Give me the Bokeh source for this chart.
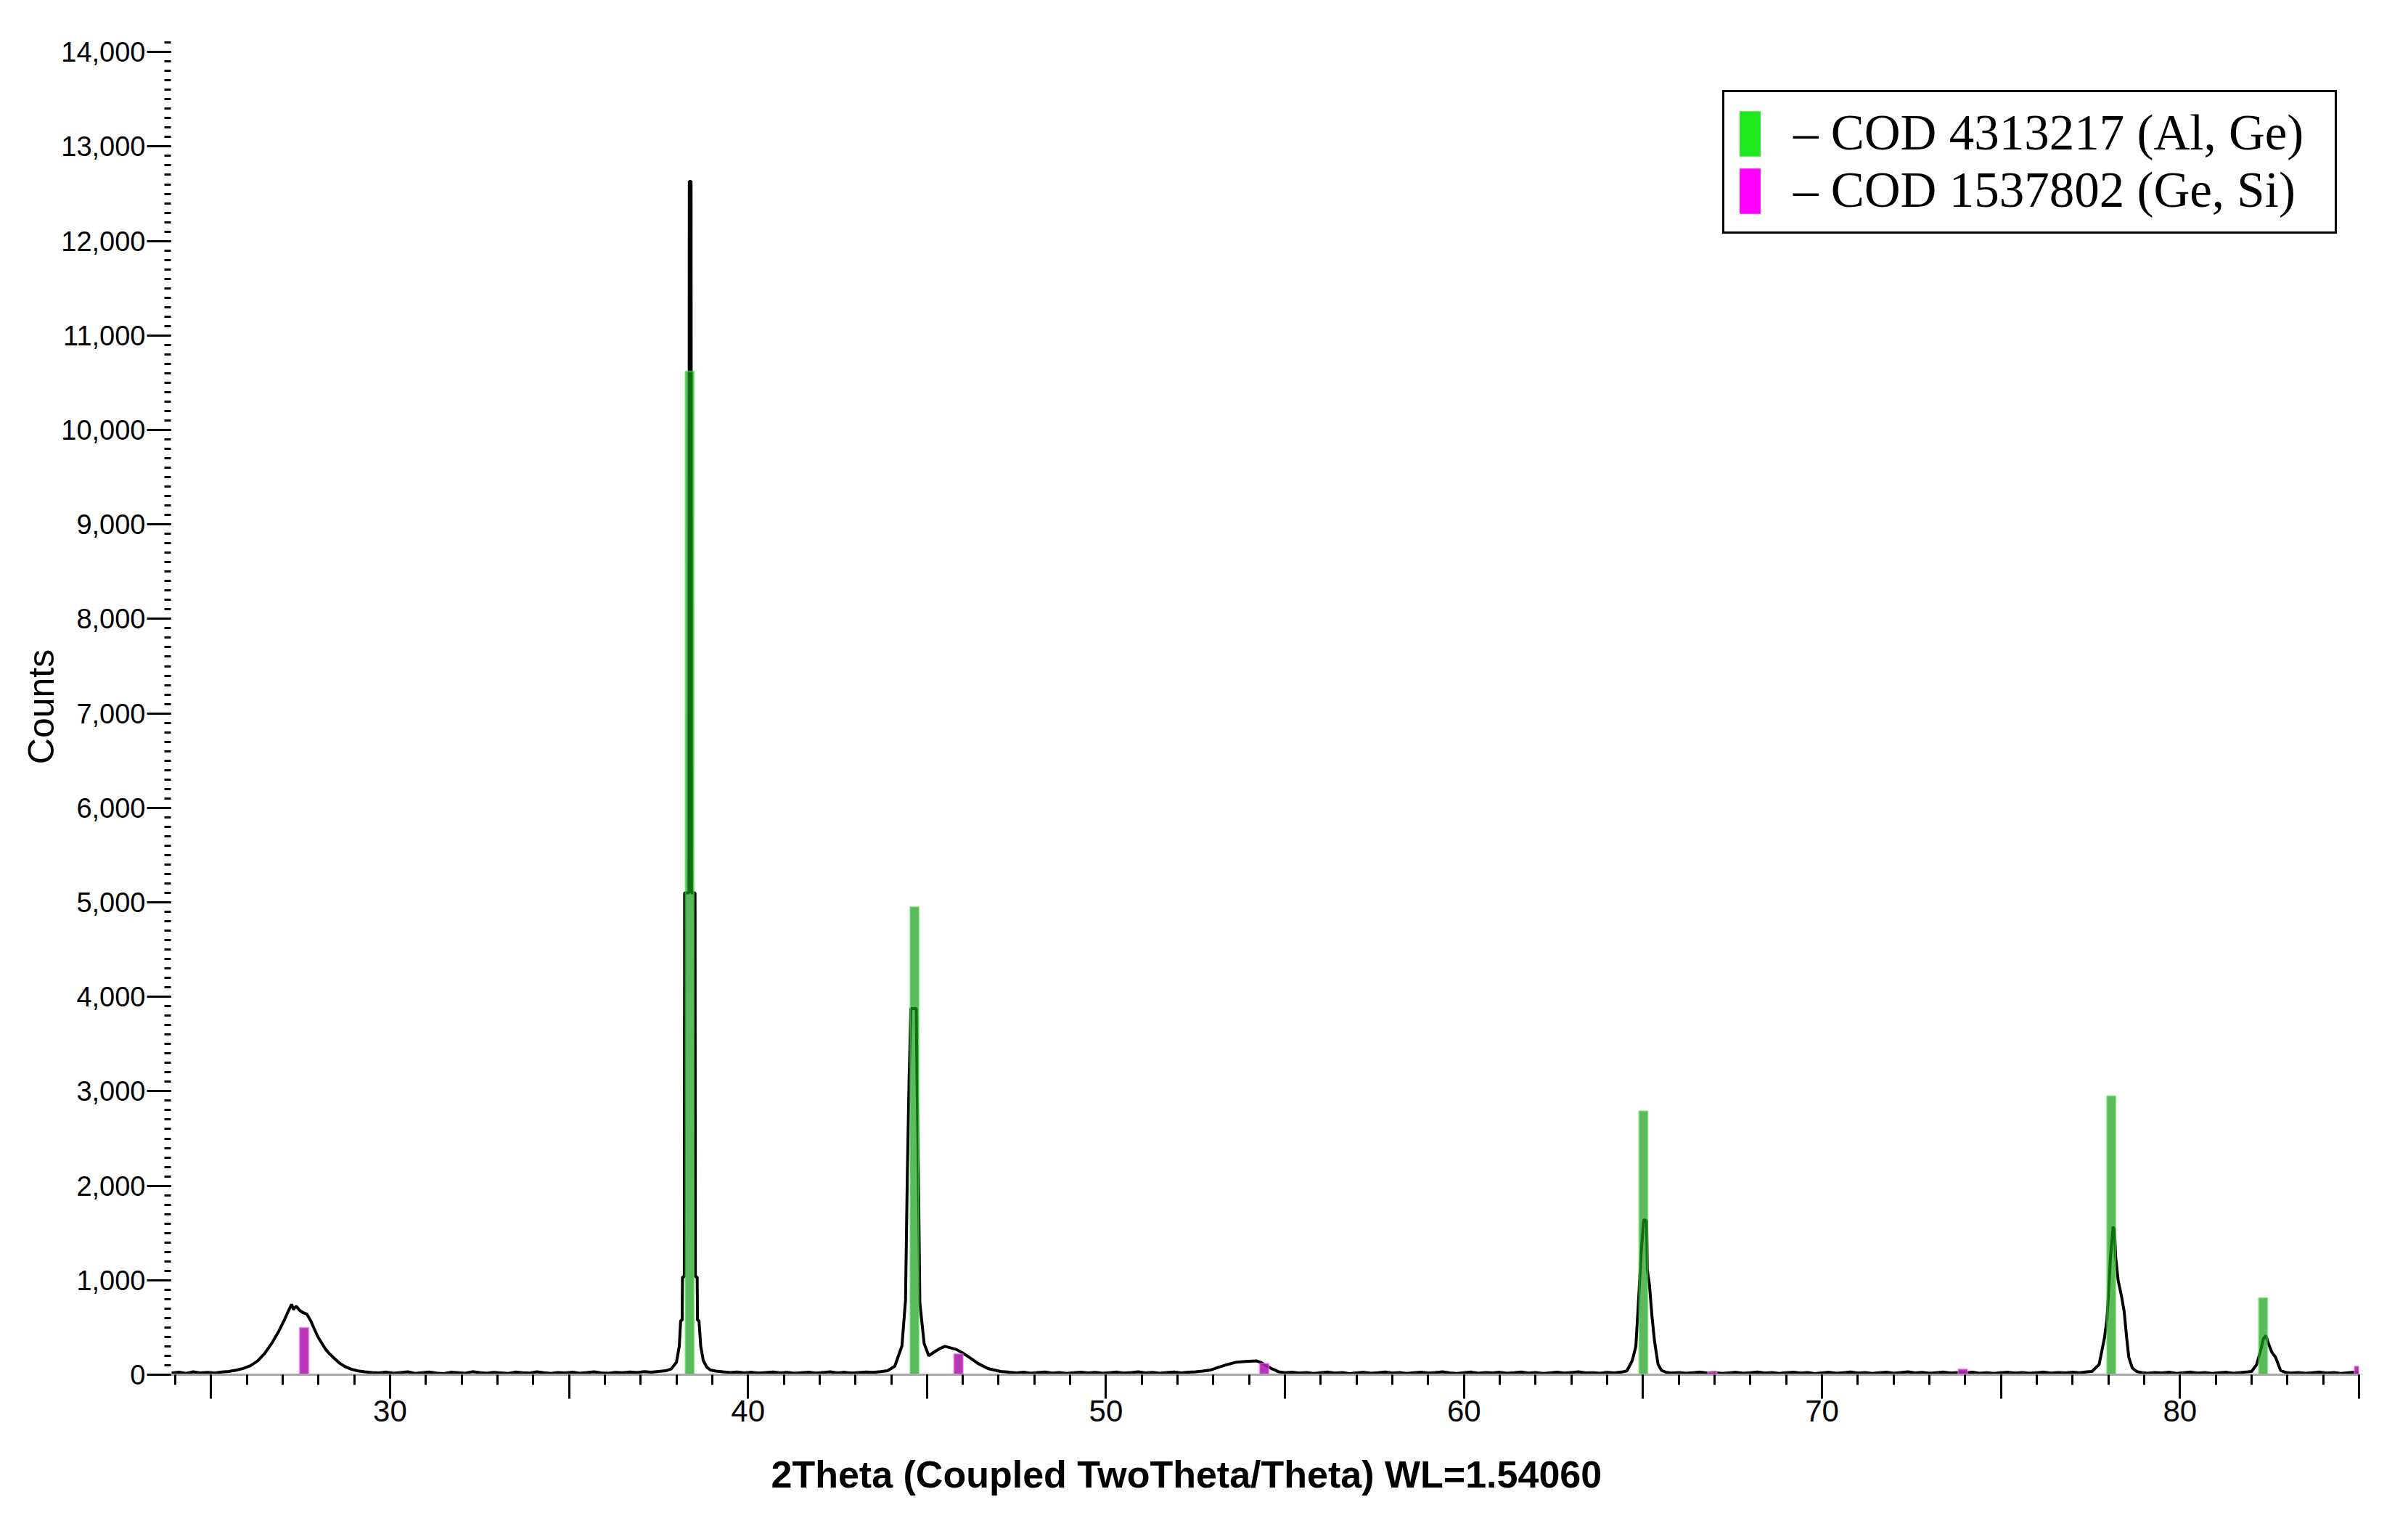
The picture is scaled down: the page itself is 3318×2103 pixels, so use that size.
from bokeh.plotting import figure
from bokeh.models import (Range1d, FixedTicker, SingleIntervalTicker, NumeralTickFormatter,
                          Legend, LegendItem, Title)
from bokeh.embed import file_html
from bokeh.resources import INLINE

# ---------------- data ----------------
two_theta = [
    23.9, 24.1, 24.3, 24.5, 24.7, 24.9, 25.1, 25.3, 25.5, 25.7, 25.9, 26.1, 26.3, 26.5, 26.7, 26.9,
    27.05, 27.15, 27.25, 27.3, 27.38, 27.48, 27.58, 27.68, 27.78, 27.88, 27.98, 28.1, 28.2, 28.3,
    28.45, 28.6, 28.75, 28.9, 29.1, 29.3, 29.5, 29.7, 29.9, 30.1, 30.3, 30.5, 30.7, 30.9, 31.1,
    31.3, 31.5, 31.7, 31.9, 32.1, 32.3, 32.5, 32.7, 32.9, 33.1, 33.3, 33.5, 33.7, 33.9, 34.1, 34.3,
    34.5, 34.7, 34.9, 35.1, 35.3, 35.5, 35.7, 35.9, 36.1, 36.3, 36.5, 36.7, 36.9, 37.1, 37.3, 37.5,
    37.7, 37.85, 38.0, 38.08, 38.12, 38.16, 38.17, 38.22, 38.23, 38.35, 38.36, 38.41, 38.42, 38.52,
    38.53, 38.58, 38.59, 38.63, 38.68, 38.75, 38.85, 38.95, 39.1, 39.3, 39.5, 39.7, 39.9, 40.1,
    40.3, 40.5, 40.7, 40.9, 41.1, 41.3, 41.5, 41.7, 41.9, 42.1, 42.3, 42.5, 42.7, 42.9, 43.1, 43.3,
    43.5, 43.7, 43.9, 44.1, 44.3, 44.4, 44.45, 44.5, 44.55, 44.7, 44.72, 44.76, 44.8, 44.92, 45.05,
    45.2, 45.35, 45.5, 45.65, 45.8, 45.97, 46.2, 46.42, 46.7, 47.05, 47.3, 47.5, 47.7, 47.9, 48.1,
    48.3, 48.5, 48.7, 48.9, 49.1, 49.3, 49.5, 49.7, 49.9, 50.1, 50.3, 50.5, 50.7, 50.9, 51.1, 51.3,
    51.5, 51.7, 51.9, 52.1, 52.3, 52.5, 52.7, 52.93, 53.15, 53.38, 53.65, 53.9, 54.2, 54.35, 54.47,
    54.65, 54.83, 55.0, 55.2, 55.4, 55.6, 55.8, 56.0, 56.2, 56.4, 56.6, 56.8, 57.0, 57.2, 57.4,
    57.6, 57.8, 58.0, 58.2, 58.4, 58.6, 58.8, 59.0, 59.2, 59.4, 59.6, 59.8, 60.0, 60.2, 60.4, 60.6,
    60.8, 61.0, 61.2, 61.4, 61.6, 61.8, 62.0, 62.2, 62.4, 62.6, 62.8, 63.0, 63.2, 63.4, 63.6, 63.8,
    64.0, 64.2, 64.4, 64.55, 64.7, 64.8, 64.87, 64.95, 65.02, 65.1, 65.12, 65.18, 65.25, 65.32,
    65.42, 65.52, 65.65, 65.8, 66.0, 66.2, 66.4, 66.6, 66.8, 67.0, 67.2, 67.4, 67.6, 67.8, 68.0,
    68.2, 68.4, 68.6, 68.8, 69.0, 69.2, 69.4, 69.6, 69.8, 70.0, 70.2, 70.4, 70.6, 70.8, 71.0, 71.2,
    71.4, 71.6, 71.8, 72.0, 72.2, 72.4, 72.6, 72.8, 73.0, 73.2, 73.4, 73.6, 73.8, 74.0, 74.2, 74.4,
    74.6, 74.8, 75.0, 75.2, 75.4, 75.6, 75.8, 76.0, 76.2, 76.4, 76.6, 76.8, 77.0, 77.2, 77.4, 77.54,
    77.74, 77.89, 77.96, 78.0, 78.06, 78.13, 78.17, 78.2, 78.27, 78.37, 78.44, 78.51, 78.57, 78.67,
    78.8, 78.95, 79.1, 79.3, 79.5, 79.7, 79.9, 80.1, 80.3, 80.5, 80.7, 80.9, 81.1, 81.3, 81.5, 81.7,
    81.9, 82.0, 82.14, 82.27, 82.33, 82.4, 82.47, 82.57, 82.67, 82.81, 82.94, 83.1, 83.3, 83.5,
    83.7, 83.9, 84.1, 84.3, 84.5, 84.7, 84.9, 85.0,
]
counts = [
    18, 27, 14, 31, 20, 25, 17, 29, 34, 48, 66, 95, 145, 225, 335, 465,
    580, 665, 745, 690, 725, 680, 655, 640, 575, 490, 405, 330, 270, 225,
    170, 120, 85, 60, 40, 30, 24, 19, 28, 15, 24, 31, 14, 22, 29,
    18, 12, 26, 21, 16, 32, 23, 15, 25, 20, 13, 28, 22, 17, 30, 21,
    14, 24, 19, 27, 16, 23, 31, 20, 15, 25, 22, 29, 24, 32, 27, 35,
    42, 60, 130, 300, 575, 575, 1035, 1035, 5100, 5100, 12630, 12630, 5100, 5100,
    1035, 1035, 575, 575, 300, 150, 80, 50, 38, 30, 24, 29, 20, 26,
    17, 23, 28, 19, 25, 16, 22, 27, 18, 24, 30, 20, 26, 17, 23, 28,
    25, 33, 42, 90, 305, 790, 2115, 3130, 3875, 3875, 3130, 2115, 760, 330, 200,
    240, 275, 300, 285, 270, 236, 180, 120, 65, 35, 26, 20, 27, 16, 23,
    29, 18, 24, 14, 21, 27, 19, 25, 15, 22, 28, 17, 23, 30, 19, 25,
    16, 24, 29, 20, 26, 31, 38, 50, 80, 107, 133, 140, 146, 125, 95,
    60, 30, 22, 27, 18, 24, 14, 21, 28, 17, 23, 12, 20, 26, 16,
    22, 29, 18, 24, 13, 21, 27, 17, 23, 30, 19, 14, 22, 28, 16, 24,
    19, 26, 15, 21, 29, 18, 23, 13, 20, 27, 17, 24, 30, 19, 22, 15,
    25, 20, 28, 40, 150, 300, 750, 1300, 1640, 1630, 1110, 950, 620, 360,
    110, 45, 25, 18, 24, 15, 22, 28, 17, 23, 13, 20, 26, 16, 22,
    29, 18, 24, 14, 21, 27, 17, 23, 12, 20, 26, 15, 22, 28, 18, 24,
    14, 21, 27, 16, 23, 30, 19, 25, 15, 22, 28, 17, 24, 20, 27, 16,
    22, 13, 21, 26, 18, 24, 15, 22, 28, 17, 23, 19, 26, 21, 30, 35,
    107, 390, 593, 850, 1250, 1565, 1540, 1258, 1003, 823, 670, 390, 184, 69,
    32, 22, 16, 24, 19, 27, 14, 22, 28, 17, 23, 13, 21, 26, 16, 24,
    30, 35, 107, 286, 380, 414, 330, 235, 184, 45, 25, 18, 24, 15,
    22, 28, 17, 23, 14, 21, 26, 20,
]

# reference lines
cod_alge_pos = [38.37, 44.65, 65.01, 78.08, 82.32]
cod_alge_int = [10620, 4950, 2790, 2950, 812]
cod_gesi_pos = [27.6, 45.88, 54.42, 66.94, 73.93, 85.0]
cod_gesi_int = [500, 220, 120, 30, 60, 90]

legend_labels = ["\u2013 COD 4313217 (Al, Ge)", "\u2013 COD 1537802 (Ge, Si)"]
x_title = "2Theta (Coupled TwoTheta/Theta) WL=1.54060"
y_title = "Counts"

x_major = [25, 30, 35, 40, 45, 50, 55, 60, 65, 70, 75, 80, 85]
x_minor = list(range(24, 86))
x_labels = {v: (str(v) if v % 10 == 0 else "") for v in x_major}

# ---------------- figure ----------------
p = figure(width=3318, height=2103, output_backend="svg", toolbar_location=None,
           x_range=Range1d(23.88, 85.0), y_range=Range1d(0, 14140),
           min_border_left=235, min_border_right=68, min_border_top=53, min_border_bottom=209)
p.outline_line_color = None
p.xgrid.visible = False
p.ygrid.visible = False
p.background_fill_color = "white"

p.line(two_theta, counts, line_color="black", line_width=4)

p.vbar(x=cod_alge_pos, top=cod_alge_int, bottom=0, width=0.24,
       fill_color="#1a9a1a", fill_alpha=0.7, line_color="#44e844", line_alpha=0.55, line_width=2)
p.vbar(x=cod_gesi_pos, top=cod_gesi_int, bottom=0, width=0.26,
       fill_color="#b020b0", fill_alpha=0.9, line_color="#ff77ff", line_alpha=0.5, line_width=2)

# legend keys: zero-height bars at the same positions, carrying the bright legend colours
lg_green = p.vbar(x=cod_alge_pos, top=0, bottom=0, width=0.24, fill_color="#1fe81f", line_color=None)
lg_mag = p.vbar(x=cod_gesi_pos, top=0, bottom=0, width=0.26, fill_color="#ff00ff", line_color=None)

legend = Legend(items=[LegendItem(label=legend_labels[0], renderers=[lg_green]),
                       LegendItem(label=legend_labels[1], renderers=[lg_mag])],
                location=(2138, 1572))
legend.label_text_font = "Liberation Serif"
legend.label_text_font_size = "69px"
legend.label_text_color = "black"
legend.glyph_width = 36
legend.glyph_height = 78
legend.label_height = 78
legend.label_width = 729
legend.spacing = 0
legend.padding = 17
legend.margin = 0
legend.label_standoff = 42
legend.border_line_color = "black"
legend.border_line_alpha = 1.0
legend.border_line_width = 3
legend.background_fill_color = "white"
legend.background_fill_alpha = 1.0
p.add_layout(legend, "center")

# x axis
xa = p.xaxis[0]
xa.ticker = FixedTicker(ticks=x_major, minor_ticks=x_minor)
xa.major_label_overrides = x_labels
xa.axis_line_color = "#a8a8a8"
xa.axis_line_width = 3
xa.major_tick_in = 0
xa.major_tick_out = 33
xa.minor_tick_in = 0
xa.minor_tick_out = 14
xa.major_tick_line_width = 3
xa.minor_tick_line_width = 3
xa.major_label_standoff = 2
xa.major_label_text_font = "Liberation Sans"
xa.major_label_text_font_size = "42px"
xa.major_label_text_color = "black"

# x title: sits left of the frame centre in the original, so placed as a left-aligned title with offset
p.add_layout(Title(text=x_title, align="left", offset=827, standoff=78,
                   text_font="Liberation Sans", text_font_style="bold",
                   text_font_size="52px", text_color="black"), "below")

# y axis
ya = p.yaxis[0]
ya.ticker = SingleIntervalTicker(interval=1000, num_minor_ticks=10)
ya.formatter = NumeralTickFormatter(format="0,0")
ya.axis_line_color = None
ya.major_tick_in = 0
ya.major_tick_out = 33
ya.minor_tick_in = 0
ya.minor_tick_out = 9
ya.major_tick_line_width = 3
ya.minor_tick_line_width = 3
ya.major_label_standoff = 2
ya.major_label_text_font = "Liberation Sans"
ya.major_label_text_font_size = "38px"
ya.major_label_text_color = "black"
ya.axis_label = y_title
ya.axis_label_text_font = "Liberation Sans"
ya.axis_label_text_font_style = "normal"
ya.axis_label_text_font_size = "50px"
ya.axis_label_text_color = "black"
ya.axis_label_standoff = -4

open("out.html", "w").write(file_html(p, INLINE))
